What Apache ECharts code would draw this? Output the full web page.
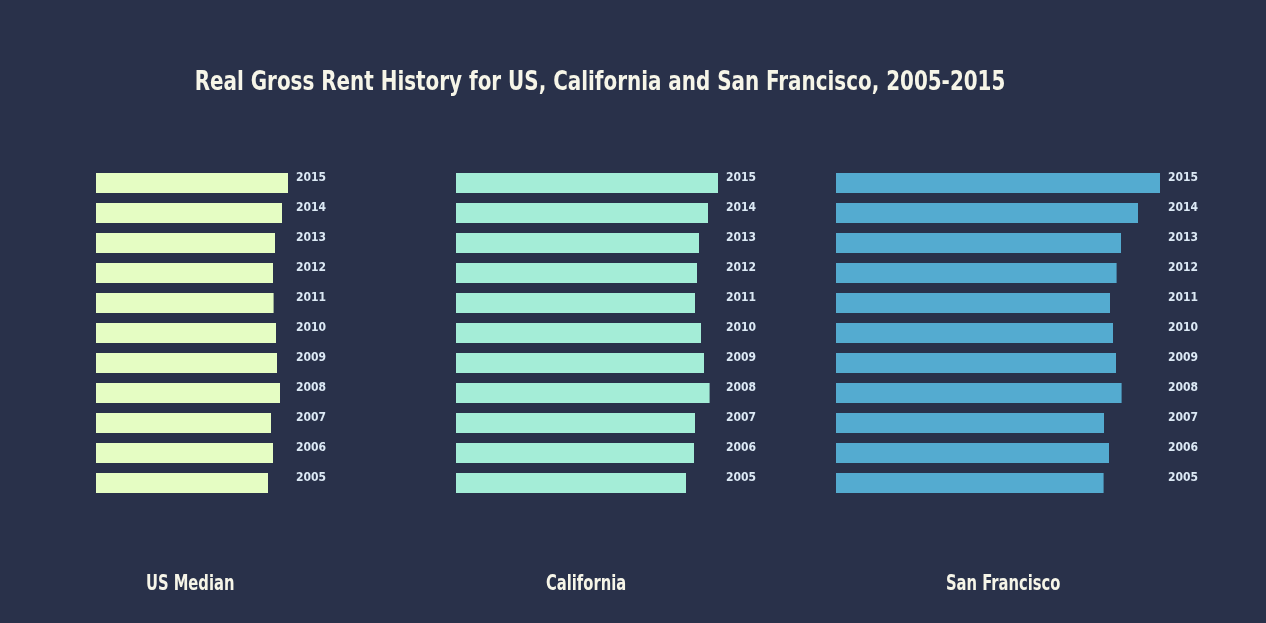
<!DOCTYPE html>
<html>
<head>
<meta charset="utf-8">
<script src="https://cdn.jsdelivr.net/npm/echarts@6/dist/echarts.min.js"></script>
<style>
html,body{margin:0;padding:0;background:#29314a;}
#chart{width:1266px;height:623px;}
</style>
</head>
<body>
<div id="chart"></div>
<script>
const years = ['2005','2006','2007','2008','2009','2010','2011','2012','2013','2014','2015'];
const usMedian   = [860, 885, 875, 920, 905, 900, 888, 885, 895, 930, 960];
const california = [1150, 1190, 1195, 1268, 1240, 1225, 1195, 1205, 1215, 1260, 1310];
const sanFrancisco = [1338, 1365, 1340, 1428, 1400, 1385, 1370, 1403, 1425, 1510, 1620];
const groupNames = ['US Median', 'California', 'San Francisco'];
const titleText = 'Real Gross Rent History for US, California and San Francisco, 2005-2015';

const FONT = '"DejaVu Sans Condensed", "Liberation Sans Narrow", sans-serif';
const groups = [
  {data: usMedian, color: '#e5fdc3', left: 96, width: 192, labelX: 146},
  {data: california, color: '#a4edd7', left: 456, width: 262, labelX: 546},
  {data: sanFrancisco, color: '#54abd0', left: 836, width: 324, labelX: 946}
];

const chart = echarts.init(document.getElementById('chart'));
const option = {
  backgroundColor: '#29314a',
  animation: false,
  grid: groups.map(g => ({left: g.left, width: g.width, top: 168, height: 330})),
  xAxis: groups.map((g, i) => ({
    type: 'value', gridIndex: i, min: 0, max: Math.max(...g.data),
    show: false
  })),
  yAxis: groups.map((g, i) => ({
    type: 'category', gridIndex: i, data: years, position: 'right',
    axisLine: {show: false}, axisTick: {show: false}, splitLine: {show: false},
    axisLabel: {
      margin: 8, color: '#dce9f5', fontFamily: FONT, fontWeight: 'bold',
      fontSize: 12, verticalAlign: 'bottom', lineHeight: 11
    }
  })),
  series: groups.map((g, i) => ({
    type: 'bar', name: groupNames[i], xAxisIndex: i, yAxisIndex: i,
    data: g.data, barWidth: 20, itemStyle: {color: g.color}
  })),
  graphic: [
    {type: 'text', x: 600, y: 83, scaleX: 0.82, style: {text: titleText, fill: '#f6f5e8',
      font: 'bold 27px ' + FONT, textAlign: 'center', textVerticalAlign: 'middle'}}
  ].concat(groups.map((g, i) => ({
    type: 'text', x: g.labelX, y: 585, scaleX: 0.78, style: {text: groupNames[i], fill: '#f6f5e8',
      font: 'bold 21px ' + FONT, textAlign: 'left', textVerticalAlign: 'middle'}
  })))
};
chart.setOption(option);
</script>
</body>
</html>
